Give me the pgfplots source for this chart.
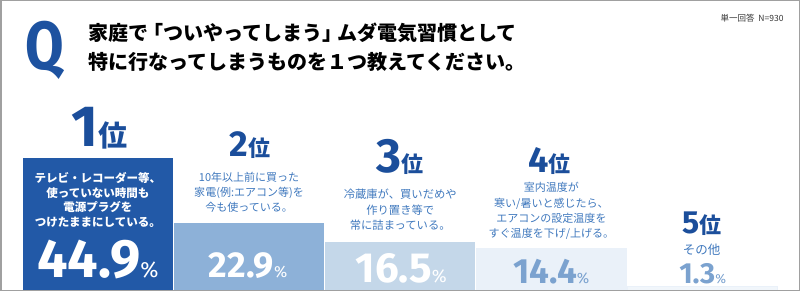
\documentclass[border=0pt]{standalone}
\usepackage{fontspec}
\usepackage{pgfplots}
\pgfplotsset{compat=1.18}
\setmainfont{Noto Sans CJK JP}
\newfontfamily\jp{Noto Sans CJK JP}
\newfontfamily\num{Fira Sans}
\definecolor{qblue}{HTML}{1D52A0}
\definecolor{rankblue}{HTML}{1B4E9B}
\definecolor{cA}{HTML}{2259A7}
\definecolor{cB}{HTML}{8DB1D8}
\definecolor{cC}{HTML}{C4D7E9}
\definecolor{cD}{HTML}{EAF1F9}
\definecolor{cE}{HTML}{F1F6FB}
\definecolor{desc}{HTML}{3F78BD}
\definecolor{pct}{HTML}{7BA2CF}
\definecolor{frame}{HTML}{A0A0A0}
\newcommand\rank[4]{{\num\bfseries\fontsize{#2}{#2}\selectfont #1}{\jp\bfseries\fontsize{#3}{#3}\selectfont #4}}
\newcommand\pc[3]{{\num\bfseries\fontsize{#2}{#2}\selectfont #1}{\num\fontsize{#3}{#3}\selectfont\%}}
\begin{document}
\begin{tikzpicture}
\begin{axis}[
  at={(0,0)}, anchor=south west,
  scale only axis, width=800pt, height=292pt,
  xmin=0, xmax=800, ymin=-0.68, ymax=98.64,
  hide axis, ybar, bar width=150, clip=false]
\addplot[fill=cA, draw=none, bar shift=0] coordinates {(98,44.9)};
\addplot[fill=cB, draw=none, bar shift=0] coordinates {(249,22.9)};
\addplot[fill=cC, draw=none, bar shift=0] coordinates {(400,16.5)};
\addplot[fill=cD, draw=none, bar shift=0] coordinates {(551,14.4)};
\addplot[fill=cE, draw=cD, bar shift=0] coordinates {(701.5,1.3)};
\end{axis}
\begin{scope}[x=1pt,y=-1pt,yshift=292pt]
\draw[frame, line width=1.5pt] (1,1) rectangle (798.5,290.5);
% header
\node[anchor=base, inner sep=0, text=qblue, xscale=0.82, font=\num\bfseries\fontsize{68}{68}\selectfont] at (45,70) {Q};
\node[anchor=west, inner sep=0, font=\jp\bfseries\fontsize{20}{20}\selectfont] at (88,33) {家庭で\kern-0.25em「ついやってしまう」\kern-0.25emムダ電気習慣として};
\node[anchor=west, inner sep=0, font=\jp\bfseries\fontsize{20}{20}\selectfont] at (88,62) {特に行なってしまうものを１つ教えてください。};
\node[anchor=east, inner sep=0, text=black!80, font=\jp\fontsize{8.5}{8.5}\selectfont] at (783,18) {単一回答\ \ N=930};
% ranks
\node[anchor=base, inner sep=0, text=rankblue] at (100,147) {\rank{1}{58}{29}{位}};
\node[anchor=base, inner sep=0, text=rankblue] at (250,157) {\rank{2}{36}{22}{位}};
\node[anchor=base, inner sep=0, text=rankblue] at (400,173) {\rank{3}{48}{22}{位}};
\node[anchor=base, inner sep=0, text=rankblue] at (549,173) {\rank{4}{36}{22}{位}};
\node[anchor=base, inner sep=0, text=rankblue] at (701,233) {\rank{5}{32}{22}{位}};
% descriptions
\node[align=center, inner sep=0, text=white, font=\jp\bfseries\fontsize{11.5}{14.7}\selectfont] at (98,200) {テレビ・レコーダー等、\\使っていない時間も\\電源プラグを\\つけたままにしている。};
\node[align=center, inner sep=0, text=desc, font=\jp\fontsize{11}{15}\selectfont] at (249,192) {10年以上前に買った\\家電(例:エアコン等)を\\今も使っている。};
\node[align=center, inner sep=0, text=desc, font=\jp\fontsize{11.3}{15.5}\selectfont] at (400,210) {冷蔵庫が、買いだめや\\作り置き等で\\常に詰まっている。};
\node[align=center, inner sep=0, text=desc, font=\jp\fontsize{11}{15.3}\selectfont] at (551,211) {室内温度が\\寒い/暑いと感じたら、\\エアコンの設定温度を\\すぐ温度を下げ/上げる。};
\node[inner sep=0, text=desc, font=\jp\fontsize{12.5}{12.5}\selectfont] at (701,250) {その他};
% percentages
\node[anchor=base, inner sep=0, text=white] at (98,277) {\pc{44.9}{54}{22}};
\node[anchor=base, inner sep=0, text=white] at (248,277) {\pc{22.9}{36}{16}};
\node[anchor=base, inner sep=0, text=white] at (401,282) {\pc{16.5}{42}{18}};
\node[anchor=base, inner sep=0, text=pct] at (551,283) {\pc{14.4}{35}{15}};
\node[anchor=base, inner sep=0, text=pct] at (702,283) {\pc{1.3}{29}{13}};
\end{scope}
\end{tikzpicture}
\end{document}
